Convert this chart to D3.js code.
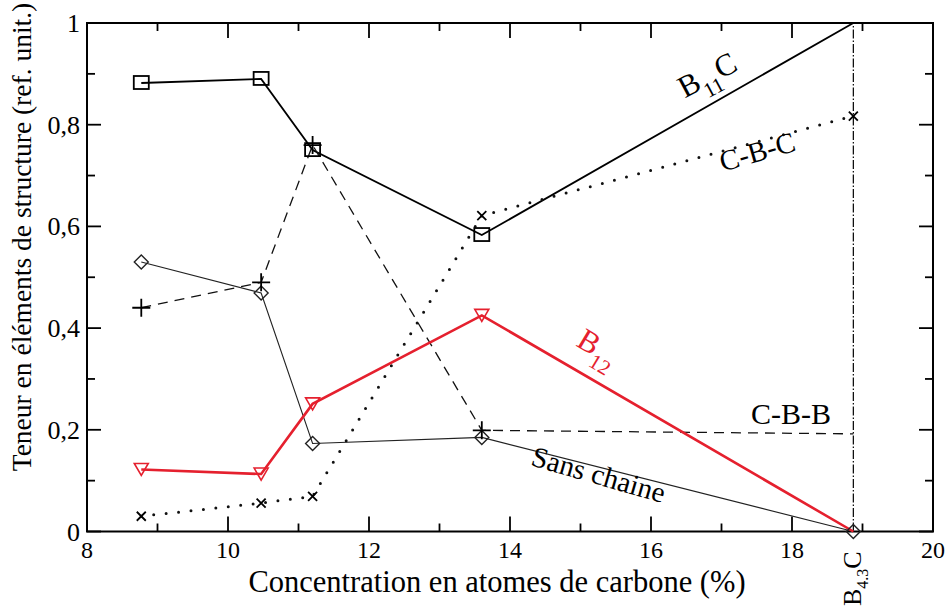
<!DOCTYPE html>
<html><head><meta charset="utf-8">
<script src="https://cdn.jsdelivr.net/npm/d3@7"></script>
<style>body{margin:0;background:#fff}</style>
</head><body><svg id="c" width="947" height="606"></svg>
<script>
const xVals = [8.77, 10.47, 11.2, 13.6, 18.87];
const b11c = [0.882, 0.89, 0.75, 0.583, 1.0];
const sansChaine = [0.53, 0.469, 0.173, 0.185, 0.0];
const cbb = [0.44, 0.49, 0.76, 0.199, 0.192];
const cbc = [0.03, 0.056, 0.069, 0.621, 0.817];
const b12 = [0.122, 0.113, 0.251, 0.425, 0.0];
const xTickLabels = ["8","10","12","14","16","18","20"];
const yTickLabels = ["0","0,2","0,4","0,6","0,8","1"];
const b43cX = 18.87;

const svg = d3.select("#c");
const L=87, R=933, T=23, B=531.5;
const x = d3.scaleLinear().domain([8,20]).range([L,R]);
const y = d3.scaleLinear().domain([0,1]).range([B,T]);

// ticks
const g = svg.append("g");
const xt = d3.range(8,20.01,1), yt = d3.range(0,1.001,0.1);
xt.forEach(v=>{
  const maj = Math.round(v)%2===0, len = maj?15:8;
  g.append("line").attr("x1",x(v)).attr("x2",x(v)).attr("y1",B).attr("y2",B-len).attr("stroke","#000").attr("stroke-width",1.8);
  g.append("line").attr("x1",x(v)).attr("x2",x(v)).attr("y1",T).attr("y2",T+len).attr("stroke","#000").attr("stroke-width",1.8);
});
yt.forEach((v,i)=>{
  const maj = i%2===0, len = maj?14:8;
  g.append("line").attr("x1",L).attr("x2",L+len).attr("y1",y(v)).attr("y2",y(v)).attr("stroke","#000").attr("stroke-width",1.8);
  g.append("line").attr("x1",R).attr("x2",R-len).attr("y1",y(v)).attr("y2",y(v)).attr("stroke","#000").attr("stroke-width",1.8);
});
const txt = sel => sel.style("font-family",'"Liberation Serif"');
xTickLabels.forEach(t=>{
  txt(g.append("text")).attr("x",x(+t)).attr("y",B+26).attr("text-anchor","middle").attr("font-size",24).text(t);
});
yTickLabels.forEach(t=>{
  const v = +t.replace(",",".");
  txt(g.append("text")).attr("x",L-7).attr("y",y(v)+9).attr("text-anchor","end").attr("font-size",26).text(t);
});
svg.append("rect").attr("x",L).attr("y",T).attr("width",R-L).attr("height",B-T).attr("fill","none").attr("stroke","#000").attr("stroke-width",2);

// axis titles
txt(svg.append("text")).attr("x",497).attr("y",592).attr("text-anchor","middle").attr("font-size",30.5).text("Concentration en atomes de carbone (%)");
txt(svg.append("text")).attr("transform","translate(31,237) rotate(-90)").attr("text-anchor","middle").attr("font-size",27.5).text("Teneur en éléments de structure (ref. unit.)");

// vertical B4.3C line
svg.append("line").attr("x1",x(b43cX)).attr("x2",x(b43cX)).attr("y1",y(0)).attr("y2",y(1))
  .attr("stroke","#000").attr("stroke-width",1.2).attr("stroke-dasharray","9,2,1.5,2");

const line = d3.line().x(d=>x(d[0])).y(d=>y(d[1]));
const pts = arr => xVals.map((v,i)=>[v,arr[i]]);

svg.append("path").attr("d",line(pts(b11c))).attr("fill","none").attr("stroke","#000").attr("stroke-width",1.8);
svg.append("path").attr("d",line(pts(sansChaine))).attr("fill","none").attr("stroke","#222").attr("stroke-width",1.1);
svg.append("path").attr("d",line(pts(cbb))).attr("fill","none").attr("stroke","#111").attr("stroke-width",1.3).attr("stroke-dasharray","10,7");
svg.append("path").attr("d",line(pts(cbc))).attr("fill","none").attr("stroke","#111").attr("stroke-width",3).attr("stroke-linecap","round").attr("stroke-dasharray","0,12.5");
svg.append("path").attr("d",line(pts(b12))).attr("fill","none").attr("stroke","#e5202e").attr("stroke-width",2.6);

// markers
const mk = svg.append("g");
pts(b11c).slice(0,4).forEach(p=>mk.append("rect").attr("x",x(p[0])-7.5).attr("y",y(p[1])-7).attr("width",15).attr("height",13).attr("fill","none").attr("stroke","#000").attr("stroke-width",1.8));
pts(sansChaine).forEach(p=>mk.append("path").attr("d",`M${x(p[0])-7},${y(p[1])}l7,-7l7,7l-7,7z`).attr("fill","none").attr("stroke","#222").attr("stroke-width",1.4));
pts(cbb).slice(0,4).forEach(p=>mk.append("path").attr("d",`M${x(p[0])-9},${y(p[1])}h18M${x(p[0])},${y(p[1])-9}v18`).attr("stroke","#000").attr("stroke-width",1.8));
pts(cbc).forEach(p=>mk.append("path").attr("d",`M${x(p[0])-4.5},${y(p[1])-4.5}l9,9M${x(p[0])+4.5},${y(p[1])-4.5}l-9,9`).attr("stroke","#000").attr("stroke-width",1.8));
pts(b12).slice(0,4).forEach(p=>mk.append("path").attr("d",`M${x(p[0])-7},${y(p[1])-6}h14l-7,12z`).attr("fill","none").attr("stroke","#e5202e").attr("stroke-width",1.6));

// curve labels
function lab(px,py,rot,parts,size,color){
  const t = txt(svg.append("text")).attr("transform",`translate(${px},${py}) rotate(${rot})`).attr("font-size",size).attr("fill",color||"#000").attr("text-anchor","middle");
  parts.forEach(p=>{
    const s = t.append("tspan").text(p[0]);
    if(p[1]==="sub") s.attr("font-size",size*0.68).attr("dy",size*0.35);
    if(p[1]==="up") s.attr("dy",-size*0.35);
  });
}
lab(712,84,-28,[["B"],["11","sub"],["C","up"]],31);
lab(760,161,-16,[["C-B-C"]],29);
lab(593,356,31,[["B"],["12","sub"]],31,"#e5202e");
lab(791,424,0,[["C-B-B"]],30);
lab(596,484,16,[["Sans chaine"]],29);
const t = txt(svg.append("text")).attr("transform",`translate(${x(b43cX)+8},606) rotate(-90)`).attr("font-size",26).attr("text-anchor","start");
t.append("tspan").text("B");
t.append("tspan").text("4.3").attr("font-size",16).attr("dy",7);
t.append("tspan").text("C").attr("dy",-7);
</script></body></html>
